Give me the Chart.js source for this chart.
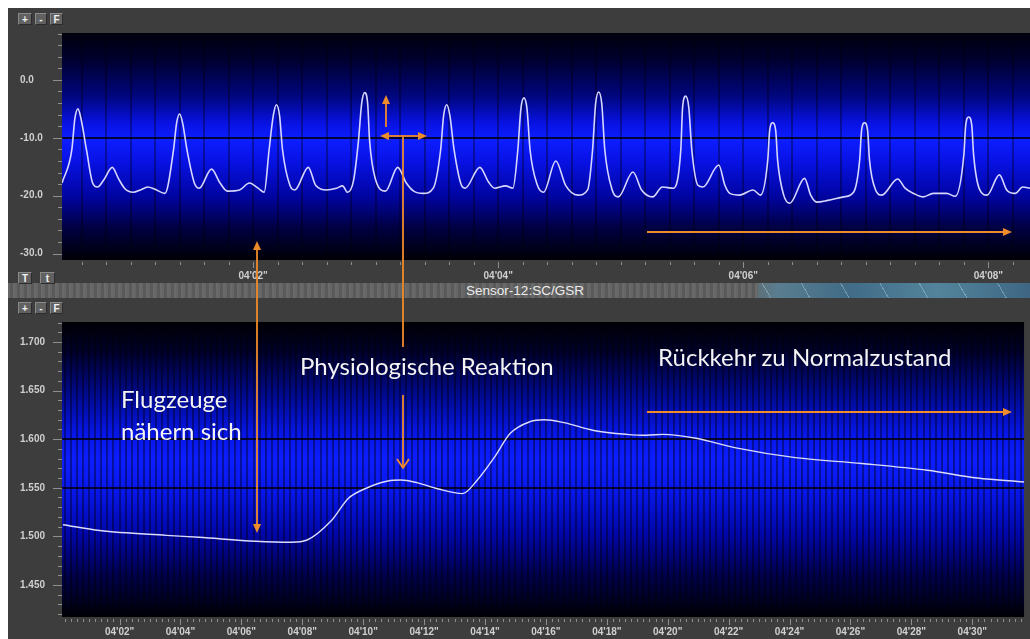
<!DOCTYPE html>
<html>
<head>
<meta charset="utf-8">
<title>Sensor-12:SC/GSR</title>
<script src="https://cdn.jsdelivr.net/npm/chart.js@4.4.1/dist/chart.umd.min.js"></script>
<style>
  html, body { margin: 0; padding: 0; background: #fff; }
  body { position: relative; width: 1030px; height: 639px; overflow: hidden; font-family: Arial, "Liberation Sans", sans-serif; }
  #panel { position: absolute; left: 8px; top: 8px; width: 1022px; height: 631px; background: #3d3d3d; }
  #strip {
    position: absolute; left: 8px; top: 283px; width: 1022px; height: 15px;
    background:
      repeating-linear-gradient(60deg, rgba(200,230,245,0) 0 14px, rgba(200,230,245,0.35) 14px 15px, rgba(200,230,245,0) 15px 34px),
      linear-gradient(90deg, #5f5f5f 0, #626262 730px, #5a7e90 770px, #416b86 840px, #53849c 930px, #3e6682 1022px);
  }
  #strip::before {
    content: ""; position: absolute; left: 0; top: 0; width: 750px; height: 15px;
    background: repeating-linear-gradient(90deg, #666 0 2px, #5a5a5a 2px 5px, #6a6a6a 5px 7px);
  }
  #title { position: absolute; left: 0; top: 283px; width: 1050px; text-align: center; color: #ececec; font-size: 13.5px; line-height: 15px; }
  .btn {
    position: absolute; height: 12px; box-sizing: border-box;
    background: #616161; color: #f2f2f2; font: bold 10px Arial, sans-serif; line-height: 11px; text-align: center;
    border-top: 1px solid #8a8a8a; border-left: 1px solid #8a8a8a; border-bottom: 1px solid #2c2c2c; border-right: 1px solid #2c2c2c;
  }
  .box { position: absolute; }
  #pulseBox { left: 8px; top: 27px; width: 1022px; height: 263px; }
  #gsrBox { left: 8px; top: 316px; width: 1022px; height: 323px; }
  #notes { position: absolute; left: 0; top: 0; width: 1030px; height: 639px; pointer-events: none; }
  #notes text { font-family: Lato, "Open Sans", sans-serif; font-size: 24px; fill: #f4f4f4; }
</style>
</head>
<body>
<div id="panel"></div>
<div id="strip"></div>
<div id="title">Sensor-12:SC/GSR</div>

<div class="btn" style="left:18px; top:13px; width:14px;">+</div>
<div class="btn" style="left:35px; top:13px; width:12px;">-</div>
<div class="btn" style="left:50px; top:13px; width:13px;">F</div>
<div class="btn" style="left:18px; top:272px; width:14px;">T</div>
<div class="btn" style="left:40px; top:272px; width:15px;">t</div>
<div class="btn" style="left:18px; top:302px; width:14px;">+</div>
<div class="btn" style="left:35px; top:302px; width:12px;">-</div>
<div class="btn" style="left:50px; top:302px; width:13px;">F</div>

<div class="box" id="pulseBox"><canvas id="pulseChart"></canvas></div>
<div class="box" id="gsrBox"><canvas id="gsrChart"></canvas></div>

<svg id="notes" width="1030" height="639">
  <g stroke="#ef8b2a" stroke-width="1.8" fill="none">
    <line x1="257" y1="248" x2="257" y2="526"/>
    <line x1="386" y1="127" x2="386" y2="102"/>
    <line x1="388" y1="136" x2="419" y2="136"/>
    <line x1="403" y1="136" x2="403" y2="347"/>
    <line x1="403" y1="395" x2="403" y2="467"/>
    <polyline points="397,459 403,468 409,459"/>
    <line x1="647" y1="232" x2="1004" y2="232"/>
    <line x1="647" y1="412" x2="1004" y2="412"/>
  </g>
  <g fill="#ef8b2a">
    <polygon points="257,241 253,250 261,250"/>
    <polygon points="257,533 253,524 261,524"/>
    <polygon points="386,95 382,104 390,104"/>
    <polygon points="380,136 389,132 389,140"/>
    <polygon points="427,136 418,132 418,140"/>
    <polygon points="1012,232 1003,228 1003,236"/>
    <polygon points="1012,412 1003,408 1003,416"/>
  </g>
  <text x="121" y="408">Flugzeuge</text>
  <text x="121" y="440">nähern sich</text>
  <text x="300" y="375">Physiologische Reaktion</text>
  <text x="658" y="366">Rückkehr zu Normalzustand</text>
</svg>

<script>
// top trace, seconds after 04'00" / amplitude
const pulseTime = [
  0.44, 0.52, 0.545, 0.57, 0.595, 0.64, 0.69, 0.73, 0.78, 0.85, 0.90, 0.95,
  1.02, 1.08, 1.14, 1.20, 1.28, 1.35, 1.375, 1.40, 1.425, 1.46, 1.52, 1.56,
  1.66, 1.73, 1.79, 1.89, 1.97, 2.04, 2.09, 2.13, 2.165, 2.19, 2.215, 2.24,
  2.30, 2.34, 2.45, 2.51, 2.60, 2.68, 2.73, 2.77, 2.82, 2.86,
  2.885, 2.91, 2.935, 2.95, 3.00, 3.08, 3.18, 3.25, 3.31, 3.39, 3.47, 3.53,
  3.555, 3.58, 3.605, 3.64, 3.70, 3.73, 3.85, 3.92, 3.97, 4.06, 4.12, 4.16,
  4.185, 4.21, 4.235, 4.26, 4.32, 4.37, 4.47, 4.55, 4.65, 4.73, 4.77,
  4.795, 4.82, 4.845, 4.87, 4.93, 4.98, 5.10, 5.17, 5.26, 5.34, 5.43, 5.49,
  5.505, 5.53, 5.555, 5.58, 5.63, 5.67, 5.80, 5.85, 5.89, 5.97, 6.08, 6.14, 6.20,
  6.215, 6.24, 6.265, 6.28, 6.33, 6.38, 6.50, 6.55, 6.60, 6.69, 6.82, 6.90,
  6.95, 6.965, 6.99, 7.015, 7.03, 7.08, 7.13, 7.26, 7.32, 7.39, 7.47, 7.55,
  7.66, 7.73, 7.80, 7.815, 7.84, 7.865, 7.88, 7.93, 7.99, 8.09, 8.15, 8.22,
  8.28, 8.34
];
const pulseValue = [
  -17.8, -12.1, -6.7, -5.0, -6.7, -12.1, -17.8, -18.5, -17.3, -15.1, -17.0, -18.7,
  -19.4, -19.0, -18.5, -18.9, -19.6, -12.1, -7.5, -5.9, -7.5, -12.1, -17.8, -18.7,
  -15.4, -17.8, -19.2, -19.0, -17.8, -18.7, -19.4, -12.1, -6.1, -4.3, -6.1, -12.1,
  -18.2, -19.0, -15.1, -18.2, -19.0, -18.7, -18.3, -19.4, -17.3, -10.4,
  -4.2, -2.2, -4.2, -10.4, -17.3, -19.2, -15.1, -17.8, -19.2, -19.6, -18.7, -12.1,
  -6.1, -4.3, -6.1, -12.1, -18.2, -18.7, -15.1, -17.6, -18.7, -18.3, -18.7, -12.1,
  -5.0, -3.1, -5.0, -12.1, -18.2, -19.4, -14.0, -18.2, -19.9, -19.0, -12.1,
  -4.1, -2.1, -4.1, -12.1, -19.0, -20.2, -15.9, -19.0, -20.2, -18.5, -18.7, -12.1,
  -4.7, -2.8, -4.7, -12.1, -18.2, -18.5, -14.7, -18.2, -19.6, -19.9, -19.0, -19.9, -13.8,
  -8.8, -7.4, -8.8, -13.8, -19.9, -21.3, -17.0, -19.9, -21.1, -20.8, -20.2, -19.4,
  -13.8, -8.8, -7.4, -8.8, -13.8, -19.0, -19.9, -17.1, -18.7, -19.6, -20.2, -19.6,
  -19.6, -20.1, -13.0, -7.9, -6.4, -7.9, -13.0, -19.0, -19.9, -16.4, -19.0, -19.6,
  -18.5, -18.7
];

// skin conductance (Sensor-12:SC/GSR)
const gsrTime = [
  0.14, 1.35, 3.53, 4.61, 6.47, 7.65, 8.14, 8.95, 9.51, 10.06,
  10.81, 11.24, 11.79, 12.44, 13.26, 13.75, 14.30, 14.83, 15.48, 15.94,
  16.59, 17.57, 18.65, 19.30, 19.85, 20.93, 22.24, 24.19, 26.38, 28.53,
  30.17, 31.70
];
const gsrValue = [
  1.512, 1.506, 1.501, 1.499, 1.495, 1.494, 1.496, 1.516, 1.539, 1.549,
  1.557, 1.558, 1.555, 1.549, 1.544, 1.558, 1.581, 1.606, 1.618, 1.620,
  1.617, 1.609, 1.605, 1.604, 1.605, 1.601, 1.591, 1.581, 1.575, 1.568,
  1.560, 1.556
];

// tick labels
const pulseYLabels = [0, -10, -20, -30];
const pulseTimeLabels = [2, 4, 6, 8];
const gsrYLabels = [1.70, 1.65, 1.60, 1.55, 1.50, 1.45];
const gsrTimeLabels = [2, 4, 6, 8, 10, 12, 14, 16, 18, 20, 22, 24, 26, 28, 30];
const pulseCenterLines = [-10];
const gsrCenterLines = [1.60, 1.55];

const near = (list, v, eps) => list.some(l => Math.abs(l - v) < eps);
const timeLabel = s => "04'" + String(Math.round(s)).padStart(2, '0') + '"';

const labelFont = { family: 'Arial', size: 10, weight: 'bold' };
const labelColor = '#cfcfcf';

// fills the plot area with the vertical blue glow
const panelFill = {
  id: 'panelFill',
  beforeDraw(chart, args, opts) {
    const { ctx, chartArea: a } = chart;
    const g = ctx.createLinearGradient(0, a.top, 0, a.bottom);
    opts.stops.forEach(s => g.addColorStop(s[0], s[1]));
    ctx.save();
    ctx.fillStyle = g;
    ctx.fillRect(a.left, a.top, a.right - a.left, a.bottom - a.top);
    ctx.restore();
  }
};

// short tick marks outside the plot, longer where a label sits
const tickMarks = {
  id: 'tickMarks',
  afterDraw(chart) {
    const { ctx, chartArea: a } = chart;
    const x = chart.scales.x;
    const y = chart.scales.y;
    ctx.save();
    ctx.strokeStyle = '#8e8e8e';
    ctx.lineWidth = 1;
    ctx.beginPath();
    x.ticks.forEach(t => {
      const px = Math.round(x.getPixelForValue(t.value)) + 0.5;
      ctx.moveTo(px, a.bottom + 2);
      ctx.lineTo(px, a.bottom + (t.label ? 8 : 5));
    });
    y.ticks.forEach(t => {
      const py = Math.round(y.getPixelForValue(t.value)) + 0.5;
      ctx.moveTo(a.left - (t.label ? 9 : 4), py);
      ctx.lineTo(a.left, py);
    });
    ctx.stroke();
    ctx.restore();
  }
};

function buildChart(id, cfg) {
  return new Chart(document.getElementById(id), {
    type: 'line',
    data: {
      datasets: [{
        data: cfg.time.map((t, i) => ({ x: t, y: cfg.values[i] })),
        borderColor: cfg.lineColor,
        borderWidth: cfg.lineWidth,
        pointRadius: 0,
        fill: false,
        cubicInterpolationMode: 'monotone'
      }]
    },
    options: {
      responsive: true,
      maintainAspectRatio: false,
      animation: false,
      devicePixelRatio: 1,
      layout: { padding: { left: 12, top: 0, right: 0, bottom: 0 } },
      plugins: {
        legend: { display: false },
        tooltip: { enabled: false },
        panelFill: { stops: cfg.stops }
      },
      scales: {
        x: {
          type: 'linear',
          min: cfg.xMin,
          max: cfg.xMax,
          afterFit(scale) { scale.height = cfg.xAxisHeight; },
          border: { display: false },
          grid: { color: cfg.stripeColor, lineWidth: cfg.stripeWidth, drawTicks: false },
          ticks: {
            stepSize: cfg.xStep,
            includeBounds: false,
            autoSkip: false,
            maxRotation: 0,
            padding: cfg.xPadding,
            color: labelColor,
            font: labelFont,
            callback: v => near(cfg.timeLabels, v, 1e-3) ? timeLabel(v) : ''
          }
        },
        y: {
          min: cfg.yMin,
          max: cfg.yMax,
          afterFit(scale) { scale.width = 42; },
          border: { display: false },
          grid: {
            color: c => (c.tick && near(cfg.centerLines, c.tick.value, 1e-6)) ? 'rgba(0,0,20,0.85)' : 'rgba(0,0,0,0)',
            lineWidth: 2,
            drawTicks: false
          },
          ticks: {
            stepSize: cfg.yStep,
            includeBounds: false,
            autoSkip: false,
            padding: 0,
            crossAlign: 'far',
            color: labelColor,
            font: labelFont,
            callback: v => near(cfg.yLabels, v, 1e-6) ? v.toFixed(cfg.digits) : ''
          }
        }
      }
    },
    plugins: [panelFill, tickMarks]
  });
}

buildChart('pulseChart', {
  time: pulseTime, values: pulseValue,
  lineColor: '#d6d6ff', lineWidth: 1.6,
  xMin: 0.44, xMax: 8.34, xStep: 0.2, xPadding: 10, xAxisHeight: 30,
  yMin: -31.1, yMax: 8.1, yStep: 2, digits: 1,
  timeLabels: pulseTimeLabels, yLabels: pulseYLabels, centerLines: pulseCenterLines,
  stripeColor: 'rgba(0,0,12,0.35)', stripeWidth: 2,
  stops: [[0, '#00000c'], [0.12, '#000030'], [0.28, '#00067e'], [0.40, '#0812e4'], [0.47, '#0c1eff'],
          [0.56, '#0812e6'], [0.72, '#0004a0'], [0.86, '#000040'], [1, '#000006']]
});

buildChart('gsrChart', {
  time: gsrTime, values: gsrValue,
  lineColor: '#dcdcff', lineWidth: 1.4,
  xMin: 0.11, xMax: 31.70, xStep: 0.2, xPadding: 9, xAxisHeight: 22,
  yMin: 1.417, yMax: 1.7206, yStep: 0.01, digits: 3,
  timeLabels: gsrTimeLabels, yLabels: gsrYLabels, centerLines: gsrCenterLines,
  stripeColor: 'rgba(0,0,10,0.4)', stripeWidth: 2,
  stops: [[0, '#000004'], [0.10, '#000028'], [0.25, '#000a90'], [0.38, '#0716e8'], [0.47, '#0c1eff'],
          [0.58, '#0716e8'], [0.72, '#0006a8'], [0.86, '#00004a'], [1, '#000004']]
});
</script>
</body>
</html>
